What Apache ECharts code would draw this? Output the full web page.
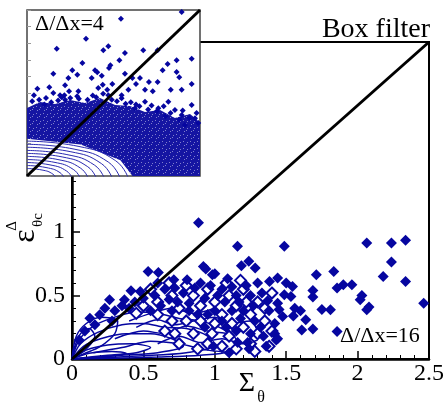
<!DOCTYPE html>
<html><head><meta charset="utf-8">
<script src="https://cdn.jsdelivr.net/npm/echarts@6/dist/echarts.min.js"></script>
<style>html,body{margin:0;padding:0;background:#fff}#c{width:447px;height:406px}</style>
</head><body><div id="c"></div>
<script>
// ---------- main plot data (Δ/Δx = 16) ----------
const diagonalMain = [[0, 0], [2.5, 2.5]];
const mainFilled = [
  [0.886,1.074],[1.159,0.889],[1.487,0.889],[2.064,0.915],[2.237,0.915],[2.336,0.936],
  [2.237,0.765],[2.336,0.612],[2.463,0.44],[2.179,0.651],[2.064,0.388],[2.08,0.41],
  [2.018,0.467],[2.03,0.5],[1.833,0.691],[1.711,0.665],[1.96,0.585],[1.90,0.585],
  [1.856,0.559],[1.687,0.541],[1.687,0.488],[1.81,0.388],[1.75,0.39],[1.856,0.216],
  [1.687,0.237],[1.609,0.229],[1.637,0.309],[1.6,0.38],[1.56,0.40],[1.55,0.34],
  [1.544,0.572],[1.533,0.493],[1.487,0.506],[1.5,0.6],[1.44,0.638],[1.383,0.612],
  [1.44,0.44],[1.45,0.39],[1.475,0.335],[1.43,0.15],[1.283,0.717],[1.238,0.77],
  [1.186,0.736],[1.09,0.633],[0.983,0.665],[0.92,0.73],[0.533,0.69],[0.605,0.683],
  [0.713,0.625],[0.806,0.625],[0.937,0.71],[1.0,0.672],[0.413,0.538],[0.478,0.532],
  [0.263,0.467],[0.367,0.467],[0.194,0.348],[0.125,0.322],
  [0.65,0.55],[0.78,0.52],[0.9,0.6],[1.05,0.55],[1.15,0.5],[1.25,0.5],[1.3,0.6],
  [1.0,0.38],[0.88,0.35],[1.18,0.32],[1.32,0.25],[1.42,0.28],[1.08,0.25],[0.58,0.5],
  [0.35,0.42],[0.3,0.38],[1.36,0.1],[1.24,0.08],[1.1,0.05],[1.23,0.13],[1.16,0.13],
  [0.99,0.1],[1.42,0.2],[1.44,0.16],
  [0.62,0.42],[0.68,0.47],[0.74,0.45],[0.82,0.44],[0.86,0.56],[0.93,0.48],[0.97,0.58],
  [1.02,0.5],[1.07,0.45],[1.12,0.57],[1.17,0.45],[1.22,0.58],[1.27,0.42],[1.33,0.52],
  [1.37,0.46],[1.12,0.38],[1.2,0.38],[0.95,0.35],[0.82,0.38],[0.7,0.38],[0.55,0.38],
  [0.5,0.48],[0.44,0.45],[0.4,0.4],[0.6,0.6],[0.72,0.56],[1.28,0.3],[1.15,0.22],
  [1.05,0.3],[0.93,0.25],[1.25,0.2],[1.34,0.18],[1.38,0.38],[0.23,0.4],[0.28,0.3],
  [0.16,0.27],[0.09,0.22],[0.05,0.15]
];
const mainHollow = [
  [0.6,0.45],[0.7,0.5],[0.75,0.4],[0.85,0.5],[0.9,0.42],[0.95,0.55],[1.0,0.45],[1.05,0.35],
  [1.1,0.5],[1.15,0.42],[1.2,0.55],[1.25,0.35],[1.3,0.45],[1.35,0.3],[1.3,0.2],[1.2,0.25],
  [1.1,0.18],[1.0,0.28],[0.9,0.3],[0.8,0.3],[0.7,0.3],[0.65,0.22],[0.85,0.2],[0.95,0.12],
  [1.05,0.1],[1.15,0.08],[1.25,0.12],[1.38,0.1],[0.75,0.12],[0.6,0.35],[0.5,0.42],[0.45,0.36],
  [1.4,0.52],[1.35,0.4],[1.18,0.62],[1.08,0.6],[0.8,0.58],[0.68,0.6],[0.55,0.55],[1.4,0.22],
  [1.28,0.06],[1.22,0.45],[0.88,0.08],[0.98,0.2],[0.72,0.2],[1.12,0.28]
];
const mainContours = [
  [[0,0],[0.05,0.15],[0.15,0.26],[0.3,0.33],[0.45,0.37],[0.6,0.36],[0.75,0.32],[0.9,0.3],[1.05,0.24],[1.15,0.15],[1.1,0.06],[0.9,0.03],[0.6,0.015],[0.3,0.005],[0,0]],
  [[0,0],[0.06,0.12],[0.18,0.21],[0.35,0.27],[0.5,0.28],[0.65,0.25],[0.8,0.24],[0.95,0.18],[0.98,0.1],[0.8,0.05],[0.5,0.025],[0.2,0.01],[0,0]],
  [[0,0],[0.08,0.1],[0.2,0.16],[0.38,0.2],[0.55,0.2],[0.7,0.16],[0.78,0.1],[0.6,0.05],[0.35,0.03],[0.12,0.01],[0,0]],
  [[0,0],[0.1,0.07],[0.25,0.11],[0.42,0.12],[0.55,0.09],[0.45,0.05],[0.25,0.03],[0,0]],
  [[0,0],[0.12,0.045],[0.28,0.06],[0.38,0.045],[0.25,0.02],[0,0]],
  [[0,0],[0.03,0.18],[0.1,0.28],[0.2,0.33],[0.32,0.3],[0.3,0.2],[0.2,0.1],[0.08,0.04],[0,0]],
  [[0,0],[0.02,0.1],[0.06,0.2],[0.12,0.24],[0.16,0.18],[0.1,0.08],[0,0]],
  [[0.45,0.25],[0.6,0.31],[0.72,0.27],[0.85,0.3],[1.0,0.33],[1.1,0.28],[1.25,0.3],[1.3,0.22]],
  [[0.6,0.12],[0.75,0.18],[0.9,0.13],[1.05,0.16],[1.2,0.12],[1.3,0.15]],
  [[0.15,0.05],[0.35,0.09],[0.55,0.14],[0.75,0.12],[0.95,0.07],[1.15,0.05]],
  [[0.3,0.16],[0.5,0.22],[0.65,0.2],[0.8,0.26],[0.95,0.22],[1.1,0.2]],
  [[0.4,0.3],[0.55,0.36],[0.7,0.4],[0.85,0.36],[1.0,0.4]]
];

// ---------- inset data (Δ/Δx = 4) ----------
const diagonalInset = [[0, 0], [10, 10]];
const insetDots = [
  [8.94,9.88],[5.43,9.48],[3.41,8.27],[1.72,7.67],[4.70,7.81],[4.41,7.57],[6.72,7.57],[7.55,7.57],
  [5.66,7.41],[9.52,7.07],[8.65,6.97],[5.34,6.97],[3.20,6.81],[8.13,6.75],[4.82,6.67],[4.74,6.51],
  [7.84,6.37],[2.62,6.37],[3.93,6.37],[4.06,6.25],[1.52,6.16],[2.91,6.10],[5.66,6.16],[8.65,6.27],
  [4.32,6.04],[2.39,5.90],[3.74,5.90],[6.53,5.90],[8.80,5.95],[6.09,5.90],[7.05,5.66],[7.55,5.66],
  [9.52,5.54],[4.93,5.54],[4.38,5.50],[2.20,5.46],[6.30,5.54],[0.60,5.26],[1.29,5.34],[2.43,5.10],
  [2.97,5.10],[4.12,5.30],[4.64,5.20],[5.86,5.20],[6.82,5.20],[7.27,5.10],[8.31,5.20],[8.94,5.20],
  [0.40,4.86],[1.52,5.00],[1.91,4.86],[2.16,4.86],[4.70,4.86],[5.47,4.86],[8.17,4.48],[8.94,3.67],
  [9.52,4.28],[7.59,4.08],[6.82,4.48],[8.55,3.98],[6.24,4.08],[5.47,4.68],[9.71,3.48],[9.13,3.07],
  [0.3,4.5],[1.1,4.7],[2.0,4.75],[2.9,4.8],[3.8,4.85],[4.4,4.95],[5.2,4.5],[6.0,4.45],
  [6.5,4.2],[7.2,4.25],[7.9,4.2],[8.3,3.8],[9.0,3.95],[9.8,3.8],[3.0,4.65],[1.8,4.55],
  [0.7,4.6],[1.4,4.45],[2.5,4.7],[3.5,4.6],[4.9,4.6],[5.7,4.35],[7.0,4.0],[7.5,3.9],
  [8.0,3.6],[8.8,3.4],[9.4,3.5],[9.9,3.2],[6.3,4.3],[4.0,4.75],[2.2,4.6],[1.0,4.3]
];
const insetDense = [
  [0,4.1],[0.75,4.46],[1.62,4.34],[2.49,4.58],[3.35,4.4],[4.22,4.7],[5.09,4.28],[5.95,4.22],
  [6.82,3.86],[7.69,3.98],[8.55,3.49],[9.42,3.73],[10,3.25],[10,0],[6.1,0],[5.4,0.95],
  [3.1,1.9],[0,2.25]
];
const insetArcs = [
  [[0,0.45],[0.87,0.36],[1.50,0.11],[1.73,-0.24]],
  [[0,0.63],[1.10,0.51],[1.91,0.20],[2.20,-0.24]],
  [[0,0.81],[1.33,0.67],[2.30,0.29],[2.66,-0.24]],
  [[0,0.99],[1.56,0.83],[2.70,0.38],[3.12,-0.24]],
  [[0,1.18],[1.79,0.99],[3.10,0.47],[3.58,-0.24]],
  [[0,1.36],[2.03,1.15],[3.51,0.56],[4.05,-0.24]],
  [[0,1.54],[2.26,1.30],[3.91,0.65],[4.51,-0.24]],
  [[0,1.73],[2.49,1.47],[4.30,0.75],[4.97,-0.24]],
  [[0,1.91],[2.72,1.62],[4.70,0.84],[5.43,-0.24]],
  [[0,2.10],[2.95,1.79],[5.11,0.93],[5.90,-0.24]]
];

const BLUE = '#0606a0';
const SERIF = '"Liberation Serif","Times New Roman",serif';

// speckle texture for the dense inset cloud (style only)
function makeSpeckle() {
  const c = document.createElement('canvas');
  c.width = 7; c.height = 7;
  const g = c.getContext('2d');
  g.fillStyle = '#1515a2'; g.fillRect(0, 0, 7, 7);
  g.fillStyle = 'rgba(255,255,255,0.45)';
  g.fillRect(1, 1, 1, 1); g.fillRect(5, 2, 1, 1); g.fillRect(2, 5, 1, 1); g.fillRect(4, 4, 1, 1);
  return c;
}

const series = [];
mainContours.forEach(c => series.push({
  type: 'line', xAxisIndex: 0, yAxisIndex: 0, data: c, symbol: 'none', smooth: 0.3,
  lineStyle: { color: BLUE, width: 1.5 }, z: 3, silent: true
}));
series.push({ type: 'scatter', xAxisIndex: 0, yAxisIndex: 0, data: mainHollow, symbol: 'emptyDiamond',
  symbolSize: 11, itemStyle: { color: BLUE, borderColor: BLUE, borderWidth: 2.5, opacity: 1 }, z: 4 });
series.push({ type: 'scatter', xAxisIndex: 0, yAxisIndex: 0, data: mainFilled, symbol: 'diamond',
  symbolSize: 11, itemStyle: { color: BLUE, opacity: 1 }, z: 4 });
series.push({ type: 'line', xAxisIndex: 0, yAxisIndex: 0, data: diagonalMain, symbol: 'none',
  lineStyle: { color: '#000', width: 3 }, z: 5 });

series.push({ type: 'custom', xAxisIndex: 1, yAxisIndex: 1, data: [[0, 0]], z: 12,
  renderItem: (p, api) => ({ type: 'polygon',
    shape: { points: insetDense.map(v => api.coord(v)) },
    style: { fill: { image: makeSpeckle(), repeat: 'repeat' } } }) });
insetArcs.forEach(c => series.push({
  type: 'line', xAxisIndex: 1, yAxisIndex: 1, data: c, symbol: 'none', smooth: 0.5, clip: true,
  lineStyle: { color: '#2a2ab0', width: 1 }, z: 13, silent: true
}));
series.push({ type: 'scatter', xAxisIndex: 1, yAxisIndex: 1, data: insetDots, symbol: 'diamond',
  symbolSize: 6, itemStyle: { color: BLUE, opacity: 1 }, z: 13 });
series.push({ type: 'line', xAxisIndex: 1, yAxisIndex: 1, data: diagonalInset, symbol: 'none',
  lineStyle: { color: '#000', width: 3 }, z: 14 });

const mainAxisCommon = {
  type: 'value', min: 0, max: 2.5, interval: 0.5,
  axisLine: { show: true, onZero: false, lineStyle: { color: '#000', width: 2.5 } },
  axisTick: { show: true, inside: true, length: 8, lineStyle: { color: '#000', width: 1.5 } },
  minorTick: { show: true, splitNumber: 5, length: 4, lineStyle: { color: '#000', width: 1 } },
  splitLine: { show: false }, minorSplitLine: { show: false }
};

const option = {
  animation: false,
  backgroundColor: '#fff',
  grid: [
    { left: 72, right: 15, top: 42, bottom: 47, show: true, borderColor: '#000', borderWidth: 2, backgroundColor: 'transparent' },
    { left: 27, top: 10, width: 173, height: 166, show: true, borderColor: '#444', borderWidth: 1.5, backgroundColor: '#fff', z: 10 }
  ],
  xAxis: [
    Object.assign({}, mainAxisCommon, { gridIndex: 0,
      axisLabel: { fontFamily: SERIF, fontSize: 24, color: '#000', margin: 3 } }),
    { type: 'value', gridIndex: 1, min: 0, max: 10, interval: 1, z: 11,
      axisLine: { show: false }, axisTick: { show: false }, axisLabel: { show: false }, splitLine: { show: false } }
  ],
  yAxis: [
    Object.assign({}, mainAxisCommon, { gridIndex: 0,
      axisLabel: { fontFamily: SERIF, fontSize: 24, color: '#000', margin: 7,
        formatter: v => (v <= 1 ? String(v) : '') } }),
    { type: 'value', gridIndex: 1, min: 0, max: 10, interval: 1, z: 11,
      axisLine: { show: false }, axisTick: { show: true, inside: true, length: 4, lineStyle: { color: '#999' } },
      axisLabel: { show: false }, splitLine: { show: false } }
  ],
  series: series,
  graphic: [
    { type: 'text', x: 430, y: 30, z: 20, style: { text: 'Box filter', fontFamily: SERIF, fontSize: 28,
      fill: '#000', textAlign: 'right', textVerticalAlign: 'middle' } },
    { type: 'text', x: 340, y: 336, z: 20, style: { text: 'Δ/Δx=16', fontFamily: SERIF, fontSize: 22,
      fill: '#000', textAlign: 'left', textVerticalAlign: 'middle' } },
    { type: 'text', x: 35, y: 24, z: 30, style: { text: 'Δ/Δx=4', fontFamily: SERIF, fontSize: 22,
      fill: '#000', textAlign: 'left', textVerticalAlign: 'middle' } },
    { type: 'text', x: 247, y: 384, z: 20, style: { text: 'Σ', fontFamily: SERIF, fontSize: 28,
      fill: '#000', textAlign: 'center', textVerticalAlign: 'middle' } },
    { type: 'text', x: 261, y: 398, z: 20, style: { text: 'θ', fontFamily: SERIF, fontSize: 16,
      fill: '#000', textAlign: 'center', textVerticalAlign: 'middle' } },
    { type: 'text', x: 26, y: 236, rotation: Math.PI / 2, z: 20, style: { text: 'ε', fontFamily: SERIF, fontSize: 32,
      fill: '#000', textAlign: 'center', textVerticalAlign: 'middle' } },
    { type: 'text', x: 12, y: 226, rotation: Math.PI / 2, z: 20, style: { text: 'Δ', fontFamily: SERIF, fontSize: 15,
      fill: '#000', textAlign: 'center', textVerticalAlign: 'middle' } },
    { type: 'text', x: 38, y: 220, rotation: Math.PI / 2, z: 20, style: { text: 'θc', fontFamily: SERIF, fontSize: 15,
      fill: '#000', textAlign: 'center', textVerticalAlign: 'middle' } }
  ]
};

const chart = echarts.init(document.getElementById('c'), null, { renderer: 'canvas' });
chart.setOption(option);
</script></body></html>
